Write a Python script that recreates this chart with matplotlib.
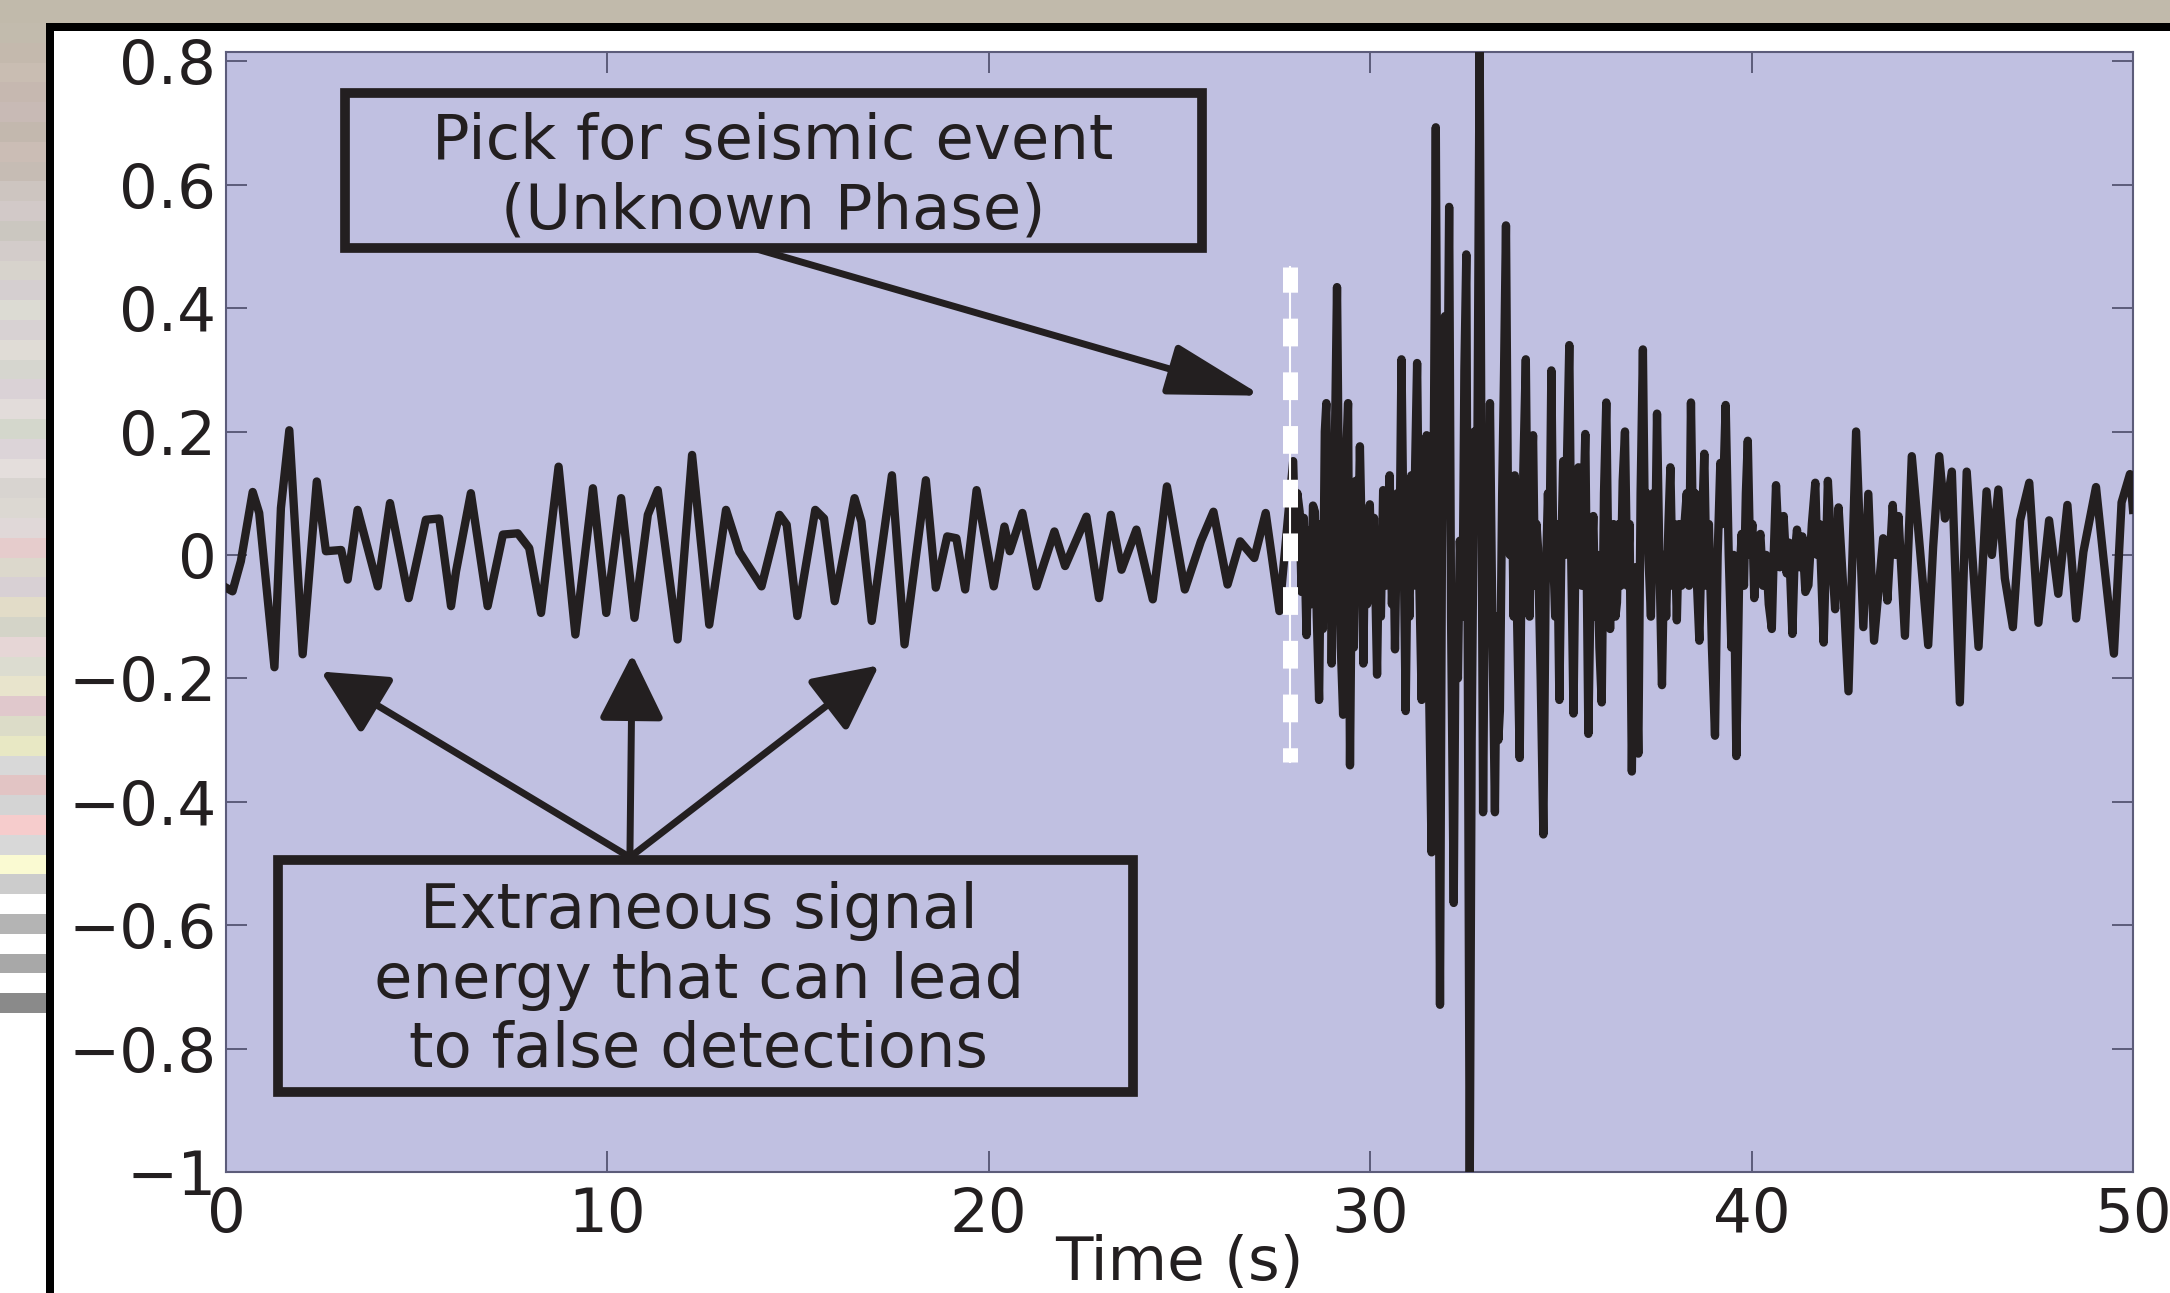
import numpy as np
import matplotlib
matplotlib.use("Agg")
import matplotlib.pyplot as plt
from matplotlib.patches import Rectangle

# seismic trace (time in s, amplitude)
t_pre = [0.00, 0.17, 0.39, 0.70, 0.87, 1.27, 1.44, 1.66, 2.01, 2.38, 2.62, 3.02, 3.19, 3.45,
         3.98, 4.30, 4.79, 5.24, 5.59, 5.90, 6.03, 6.42, 6.86, 7.26, 7.65, 7.95, 8.26, 8.72,
         9.16, 9.62, 9.97, 10.36, 10.71, 11.06, 11.32, 11.84, 12.22, 12.67, 13.11, 13.46,
         14.04, 14.51, 14.70, 14.98, 15.45, 15.68, 15.96, 16.48, 16.66, 16.93, 17.46, 17.79,
         18.35, 18.61, 18.91, 19.15, 19.38, 19.68, 20.13, 20.41, 20.55, 20.88, 21.25, 21.72,
         22.00, 22.56, 22.89, 23.20, 23.48, 23.87, 24.30, 24.67, 25.14, 25.56, 25.89, 26.26,
         26.59, 26.96, 27.26, 27.62]
a_pre = [-0.053, -0.059, -0.010, 0.102, 0.068, -0.182, 0.076, 0.202, -0.161, 0.119, 0.006, 0.008,
         -0.040, 0.073, -0.051, 0.084, -0.070, 0.057, 0.059, -0.083, -0.027, 0.100, -0.083, 0.033,
         0.035, 0.011, -0.094, 0.143, -0.129, 0.108, -0.094, 0.092, -0.102, 0.065, 0.105, -0.137,
         0.162, -0.113, 0.073, 0.005,
         -0.051, 0.065, 0.049, -0.099, 0.073, 0.059, -0.075, 0.092, 0.054, -0.107, 0.129, -0.145,
         0.121, -0.053, 0.030, 0.027, -0.056, 0.105, -0.051, 0.046, 0.006, 0.068, -0.051, 0.038,
         -0.018, 0.062, -0.070, 0.065, -0.024, 0.041, -0.072, 0.111, -0.056, 0.022, 0.070, -0.048,
         0.022, -0.005, 0.068, -0.091]

t_event = [27.98, 28.04, 28.09, 28.15, 28.20, 28.26, 28.33, 28.39, 28.45, 28.50, 28.55, 28.60,
           28.66, 28.71, 28.76, 28.81, 28.85, 28.90, 28.95, 28.99, 29.04, 29.09, 29.13, 29.18,
           29.23, 29.29, 29.34, 29.38, 29.42, 29.47, 29.52, 29.57, 29.62, 29.67, 29.73, 29.78,
           29.82, 29.87, 29.92, 29.99, 30.04, 30.10, 30.18, 30.23, 30.28, 30.34, 30.40, 30.46,
           30.51, 30.57, 30.61, 30.65, 30.71, 30.76, 30.82, 30.87, 30.93, 30.98, 31.03, 31.08,
           31.13, 31.18, 31.23, 31.29, 31.35, 31.40, 31.44, 31.48, 31.54, 31.61, 31.66, 31.72,
           31.77, 31.83, 31.88, 31.92, 31.96, 32.01, 32.07, 32.12, 32.19, 32.24, 32.30, 32.35,
           32.42, 32.47, 32.52, 32.56, 32.61, 32.66, 32.73, 32.80, 32.87, 32.92, 32.96, 33.01,
           33.06, 33.10, 33.14, 33.20, 33.27, 33.32, 33.36, 33.40, 33.46, 33.51, 33.56, 33.61,
           33.66, 33.72, 33.76, 33.79, 33.85, 33.92, 33.97, 34.02, 34.08, 34.13, 34.18, 34.22,
           34.27, 34.32, 34.36, 34.40, 34.47, 34.54, 34.60, 34.66, 34.70, 34.75, 34.80, 34.85,
           34.90, 34.96, 35.01, 35.06, 35.11]
a_event = [0.152, 0.020, 0.100, 0.070, -0.060, 0.060, -0.130, 0.040, -0.080, 0.080, 0.070, -0.100,
           -0.235, 0.050, -0.120, 0.200, 0.246, -0.050, 0.100, -0.176, 0.050, 0.250, 0.434, 0.100,
           -0.150, -0.259, 0.050, 0.180, 0.246, -0.341, 0.000, -0.150, 0.120, -0.050, 0.176, 0.020,
           -0.176, 0.050, -0.080, 0.082, -0.050, 0.060, -0.194, 0.020, -0.100, 0.105, -0.050, 0.060,
           0.129, -0.080, 0.020, -0.153, 0.100, -0.050, 0.317, 0.050, -0.253, 0.000, -0.100, 0.129,
           -0.050, 0.150, 0.311, -0.050, -0.235, 0.050, -0.100, 0.194, -0.200, -0.482, 0.100, 0.693,
           0.050, -0.729, 0.000, 0.250, 0.387, 0.100, 0.564, -0.100, -0.564, -0.100, -0.200, 0.023,
           -0.100, 0.300, 0.487, -0.200, -1.020, -0.300, 0.200, 0.050, 0.830, 0.100, -0.417, 0.000,
           -0.100, 0.100, 0.246, -0.100, -0.417, -0.100, -0.300, -0.253, 0.100, 0.300, 0.534, 0.100,
           0.000, 0.100, -0.100, 0.129, -0.100, -0.329, 0.000, 0.150, 0.317, 0.000, -0.100, 0.100,
           0.194, -0.050, 0.050, 0.011, -0.200, -0.453, -0.050, 0.100, 0.000, 0.299, 0.000, -0.100,
           0.050, -0.235, 0.000, 0.152, 0.000]

t_post = [35.22, 35.27, 35.33, 35.39, 35.46, 35.51, 35.55, 35.60, 35.64, 35.68, 35.72, 35.78,
          35.85, 35.90, 35.96, 36.01, 36.07, 36.13, 36.19, 36.24, 36.29, 36.34, 36.38, 36.43,
          36.47, 36.52, 36.57, 36.62, 36.68, 36.74, 36.80, 36.86, 36.90, 36.95, 36.99, 37.03,
          37.09, 37.15, 37.20, 37.25, 37.30, 37.36, 37.42, 37.47, 37.52, 37.58, 37.65, 37.71,
          37.76, 37.82, 37.87, 37.93, 37.98, 38.04, 38.10, 38.16, 38.23, 38.30, 38.36, 38.41,
          38.47, 38.52, 38.57, 38.63, 38.70, 38.76, 38.82, 38.88, 38.96, 39.04, 39.11, 39.18,
          39.23, 39.32, 39.40, 39.47, 39.53, 39.60, 39.67, 39.74, 39.80, 39.85, 39.90, 39.96,
          40.02, 40.07, 40.15, 40.23, 40.30, 40.38, 40.45, 40.53, 40.58, 40.64, 40.74, 40.84,
          40.92, 40.98, 41.07, 41.13, 41.19, 41.26, 41.33, 41.41, 41.49, 41.58, 41.67, 41.72,
          41.78, 41.89, 41.95, 42.00, 42.10, 42.19, 42.28, 42.40, 42.54,
          42.74, 42.93, 43.06, 43.21, 43.45, 43.56, 43.70, 43.78, 43.85, 44.02, 44.20, 44.42,
          44.63, 44.76, 44.92, 45.07, 45.25, 45.46, 45.64, 45.95, 46.16, 46.30, 46.47, 46.64,
          46.85, 47.04, 47.28, 47.52, 47.80, 48.04, 48.28, 48.51, 48.70, 49.03, 49.22, 49.50,
          49.70, 49.92, 50.00]
a_post = [0.340, 0.000, -0.257, 0.050, 0.142, 0.020, -0.050, 0.100, 0.196, -0.050, -0.290, -0.050,
          0.063, -0.100, 0.000, -0.150, -0.239, 0.100, 0.247, 0.000, -0.120, 0.020, 0.050, -0.100,
          -0.077, 0.050, -0.050, 0.120, 0.200, -0.050, 0.050, -0.351, -0.150, -0.020, -0.200, -0.322,
          0.100, 0.333, 0.050, 0.100, -0.009, -0.100, 0.100, 0.000, 0.229, 0.000, -0.211, 0.000,
          -0.100, 0.050, 0.142, -0.050, 0.050, -0.106, 0.050, -0.050, 0.041, 0.100, -0.050, 0.247,
          0.000, 0.100, -0.050, -0.139, 0.050, 0.164, -0.050, 0.050, -0.150, -0.293, 0.000, 0.149,
          0.050, 0.243, 0.000, -0.150, 0.000, -0.326, -0.050, 0.034, -0.050, 0.100, 0.185, 0.000,
          0.050, -0.070, 0.000, 0.034, -0.050, 0.000, -0.080, -0.120, 0.000, 0.113, -0.020, 0.063,
          -0.030, 0.020, -0.128, 0.000, 0.041, -0.020, 0.030, -0.060, -0.049, 0.050, 0.117, 0.000,
          0.050, -0.142, 0.000, 0.120, 0.000, -0.088, 0.077, -0.050, -0.221,
          0.200, -0.117, 0.099, -0.139, 0.027, -0.074, 0.081, 0.000, 0.063, -0.131, 0.160, 0.005,
          -0.146, 0.013, 0.160, 0.059, 0.135, -0.239, 0.135, -0.149, 0.103, 0.000, 0.106, -0.038,
          -0.117, 0.056, 0.117, -0.110, 0.056, -0.063, 0.081, -0.103, 0.005, 0.110, -0.002, -0.160,
          0.085, 0.131, 0.073]

time = t_pre + t_event + t_post
amp = a_pre + a_event + a_post

pick_time = 27.9
pick_span = (-0.335, 0.466)

x_ticks = [0, 10, 20, 30, 40, 50]
y_ticks = [0.8, 0.6, 0.4, 0.2, 0, -0.2, -0.4, -0.6, -0.8, -1]
y_labels = ["0.8", "0.6", "0.4", "0.2", "0", "\u22120.2", "\u22120.4", "\u22120.6", "\u22120.8", "\u22121"]

# left edge of the slide: colour stripes
stripes = ["#c2bbad", "#c4b9ad", "#c9bdb2", "#c6b8b0", "#c8bab5", "#c3b8ae", "#cbbdb5", "#c6bcb4",
           "#cdc5c0", "#d2c9c8", "#cbc7c0", "#d3ccca", "#d7d3cc", "#d5cfd0", "#dcdbd3", "#d8d2d3",
           "#e0dcd6", "#d6d6cf", "#dad2d6", "#e2dcda", "#d4d7cc", "#dcd4d8", "#e4dedc", "#d8d4d0",
           "#dcd8d2", "#e0d8d8", "#e6cccc", "#dcd8cc", "#d8d0d4", "#e2dcc8", "#d4d4c8", "#e6d6d6",
           "#dcdcd0", "#e8e4cc", "#e0c8cc", "#dcdcc8", "#e8e8c4", "#d8d8d8", "#e2c4c4", "#d4d4d4",
           "#f6cccc", "#d8d8d8", "#fafad2", "#cccccc", "#ffffff", "#b4b4b4", "#ffffff", "#a8a8a8",
           "#ffffff", "#8a8a8a"]

ink = "#231f20"
axcol = "#5c5c7a"
plt.rcParams['font.family'] = ['DejaVu Sans']

fig = plt.figure(figsize=(21.7, 12.93), dpi=100)
fig.patch.set_facecolor("white")

# slide background (pixel coordinates)
bg = fig.add_axes([0, 0, 1, 1], zorder=-10)
bg.axis("off")
bg.add_patch(Rectangle((0, 0), 2170, 23, color="#c1baab", lw=0))
rgb = np.array([matplotlib.colors.to_rgb(c) for c in stripes])[:, None, :]
bg.imshow(rgb, extent=(0, 46, 1013, 23), aspect="auto", interpolation="nearest")
bg.add_patch(Rectangle((46, 23), 2124, 1270, color="black", lw=0))
bg.add_patch(Rectangle((54, 31), 2116, 1262, color="white", lw=0))
bg.set_xlim(0, 2170)
bg.set_ylim(1293, 0)

ax = fig.add_axes([226 / 2170, 1 - 1172 / 1293, (2133 - 226) / 2170, (1172 - 52) / 1293])
ax.set_facecolor("#c0c0e1")
ax.plot(time, amp, color=ink, lw=6, zorder=3)

# pick marker
ax.plot([pick_time, pick_time], pick_span, color="white", lw=1.5, zorder=4)
ax.plot([pick_time, pick_time], pick_span, color="white", lw=10.8,
        ls=(0.9, (1.85, 1.73)), zorder=4)

ax.set_xlim(0, 50)
ax.set_ylim(-1, 0.815)
ax.set_xticks(x_ticks)
ax.set_xticklabels([str(v) for v in x_ticks])
ax.set_yticks(y_ticks)
ax.set_yticklabels(y_labels)
ax.tick_params(direction="in", length=15, width=1.4, color=axcol, top=True, right=True,
               labelsize=44, labelcolor=ink)
ax.tick_params(axis="y", pad=7)
ax.tick_params(axis="x", pad=10)
for s in ax.spines.values():
    s.set_color(axcol)
    s.set_linewidth(1.5)
ax.set_xlabel("Time (s)", fontsize=44, color=ink, labelpad=-8)

# annotation boxes
ax.add_patch(Rectangle((3.12, 0.498), 25.59 - 3.12, 0.748 - 0.498, fill=False,
                       ec=ink, lw=7, zorder=5))
ax.text(14.34, 0.613, "Pick for seismic event\n(Unknown Phase)", ha="center", va="center",
        fontsize=45, color=ink, linespacing=1.2, zorder=6)

ax.add_patch(Rectangle((1.36, -0.871), 23.78 - 1.36, -0.495 + 0.871, fill=False,
                       ec=ink, lw=7, zorder=5))
ax.text(12.4, -0.690, "Extraneous signal\nenergy that can lead\nto false detections",
        ha="center", va="center", fontsize=45, color=ink, linespacing=1.2, zorder=6)

# arrows
ax.annotate("", xy=(27.16, 0.258), xytext=(13.84, 0.497),
            arrowprops=dict(arrowstyle="-|>,head_length=1.45,head_width=0.4",
                            mutation_scale=40, lw=5, color=ink, shrinkA=0, shrinkB=0),
            zorder=6)
for tip in [(2.49, -0.189), (10.65, -0.161), (17.12, -0.179)]:
    ax.annotate("", xy=tip, xytext=(10.59, -0.49),
                arrowprops=dict(arrowstyle="-|>,head_length=1.0,head_width=0.5",
                                mutation_scale=40, lw=5, color=ink, shrinkA=0, shrinkB=0),
                zorder=6)

fig.savefig("out.png", dpi=100)
